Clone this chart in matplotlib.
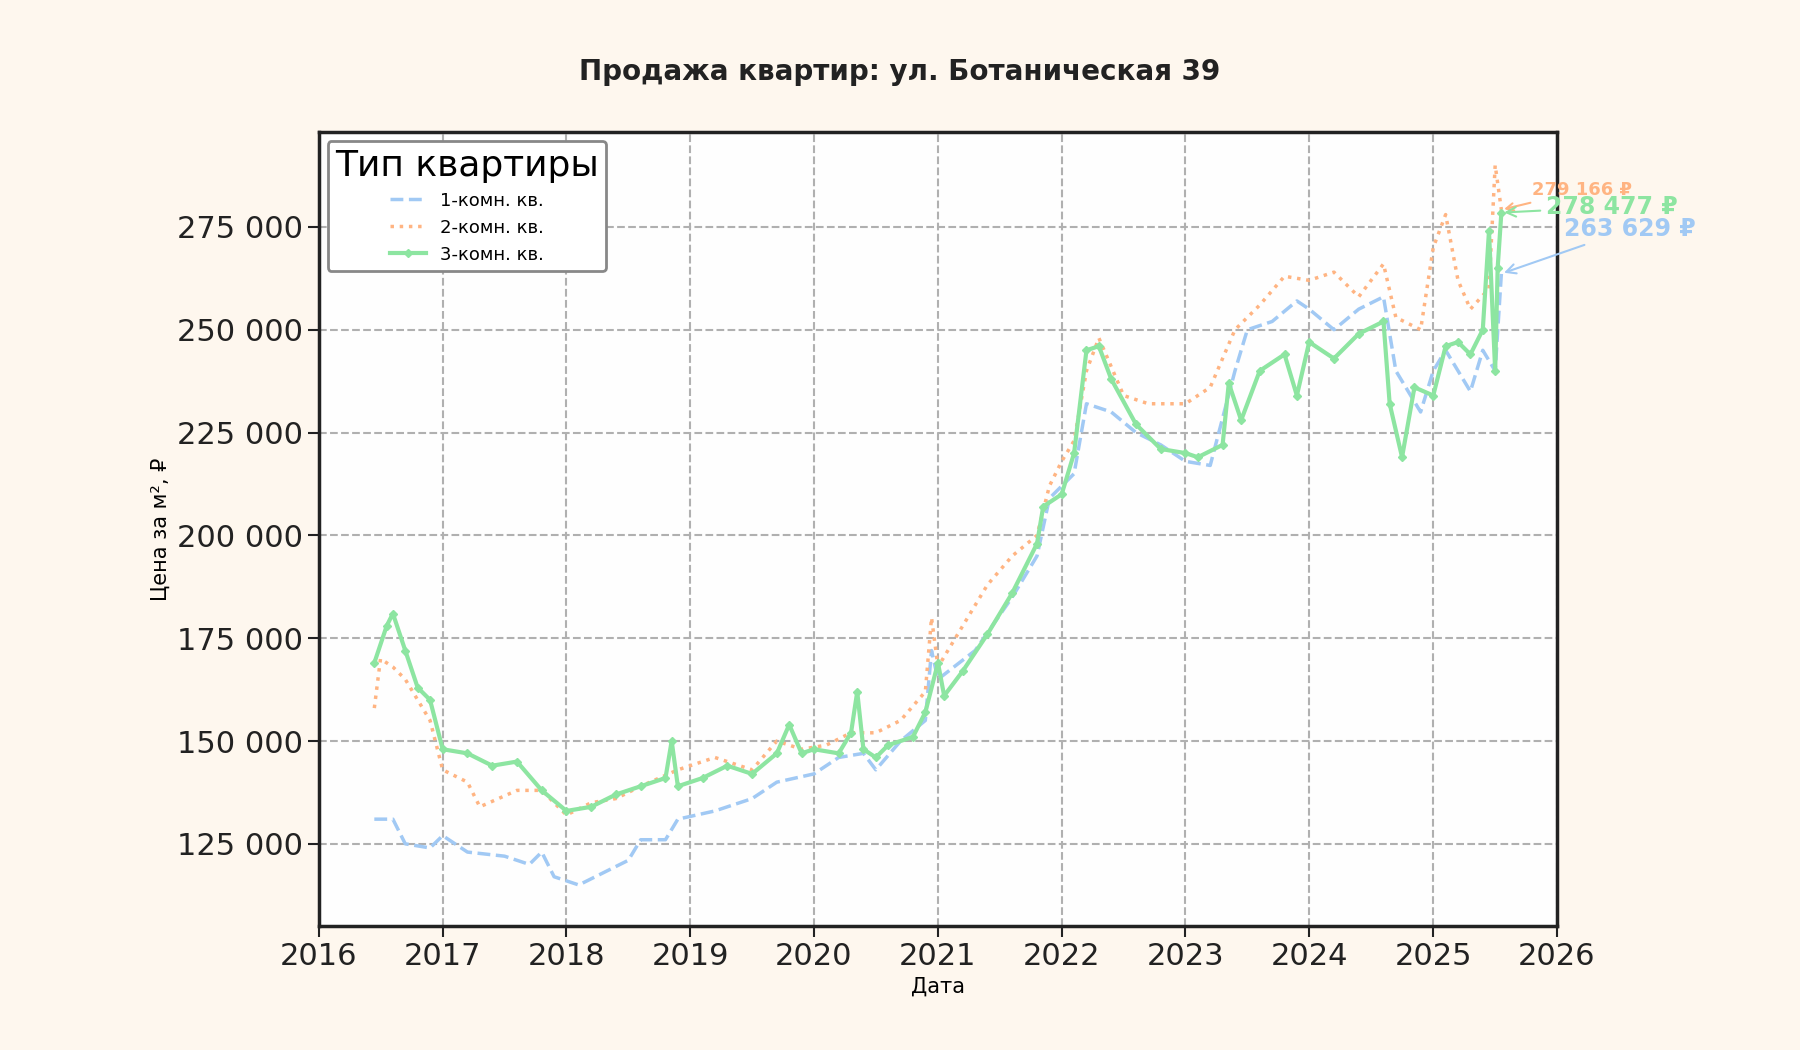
import pandas as pd
import matplotlib.pyplot as plt
import matplotlib.dates as mdates

# decimal years + price (thousand rub per m2)
t1 = [2016.45, 2016.6, 2016.7, 2016.9, 2017.0, 2017.2, 2017.5, 2017.7, 2017.8, 2017.9, 2018.1, 2018.3,
      2018.5, 2018.6, 2018.8, 2018.9, 2019.2, 2019.5, 2019.7, 2020.0, 2020.2, 2020.4, 2020.5, 2020.7,
      2020.9, 2020.95, 2021.0, 2021.3, 2021.6, 2021.8, 2021.9, 2022.1, 2022.2, 2022.4, 2022.6, 2022.8,
      2023.0, 2023.2, 2023.4, 2023.5, 2023.7, 2023.9, 2024.0, 2024.2, 2024.4, 2024.6, 2024.7, 2024.9,
      2025.0, 2025.1, 2025.2, 2025.3, 2025.4, 2025.5, 2025.55]
v1 = [131, 131, 125, 124, 127, 123, 122, 120, 123, 117, 115, 118, 121, 126, 126, 131, 133, 136, 140,
      142, 146, 147, 143, 150, 155, 172, 165, 172, 185, 195, 209, 215, 232, 230, 225, 222, 218, 217,
      240, 250, 252, 257, 255, 250, 255, 258, 240, 230, 240, 245, 240, 235, 245, 240, 263.629]

t2 = [2016.45, 2016.5, 2016.6, 2016.7, 2016.9, 2017.0, 2017.2, 2017.3, 2017.6, 2017.8, 2018.0, 2018.2,
      2018.4, 2018.6, 2018.9, 2019.2, 2019.5, 2019.7, 2019.9, 2020.1, 2020.3, 2020.5, 2020.7, 2020.9,
      2020.95, 2021.0, 2021.2, 2021.4, 2021.6, 2021.8, 2021.9, 2022.0, 2022.1, 2022.2, 2022.3, 2022.5,
      2022.7, 2022.9, 2023.0, 2023.2, 2023.4, 2023.6, 2023.8, 2024.0, 2024.2, 2024.4, 2024.6, 2024.7,
      2024.9, 2025.0, 2025.1, 2025.2, 2025.3, 2025.45, 2025.5, 2025.55]
v2 = [158, 170, 168, 165, 155, 143, 140, 134, 138, 138, 132, 135, 136, 139, 143, 146, 143, 150, 148,
      149, 152, 152, 155, 162, 180, 168, 178, 188, 195, 200, 212, 218, 223, 240, 248, 234, 232, 232,
      232, 236, 250, 256, 263, 262, 264, 258, 266, 253, 250, 270, 278, 262, 255, 260, 290, 279.166]

t3 = [2016.45, 2016.55, 2016.6, 2016.7, 2016.8, 2016.9, 2017.0, 2017.2, 2017.4, 2017.6, 2017.8, 2018.0,
      2018.2, 2018.4, 2018.6, 2018.8, 2018.85, 2018.9, 2019.1, 2019.3, 2019.5, 2019.7, 2019.8, 2019.9,
      2020.0, 2020.2, 2020.3, 2020.35, 2020.4, 2020.5, 2020.6, 2020.8, 2020.9, 2021.0, 2021.05, 2021.2,
      2021.4, 2021.6, 2021.8, 2021.85, 2022.0, 2022.1, 2022.2, 2022.3, 2022.4, 2022.6, 2022.8, 2023.0,
      2023.1, 2023.3, 2023.35, 2023.45, 2023.6, 2023.8, 2023.9, 2024.0, 2024.2, 2024.4, 2024.6, 2024.65,
      2024.75, 2024.85, 2025.0, 2025.1, 2025.2, 2025.3, 2025.4, 2025.45, 2025.5, 2025.52, 2025.55]
v3 = [169, 178, 181, 172, 163, 160, 148, 147, 144, 145, 138, 133, 134, 137, 139, 141, 150, 139, 141,
      144, 142, 147, 154, 147, 148, 147, 152, 162, 148, 146, 149, 151, 157, 169, 161, 167, 176, 186,
      198, 207, 210, 220, 245, 246, 238, 227, 221, 220, 219, 222, 237, 228, 240, 244, 234, 247, 243,
      249, 252, 232, 219, 236, 234, 246, 247, 244, 250, 274, 240, 265, 278.477]

labels = ['1-комн. кв.', '2-комн. кв.', '3-комн. кв.']
colors = ['#a1c9f4', '#ffb482', '#8de5a1']


def to_dates(years):
    return [pd.Timestamp('%d-01-01' % int(y)) + pd.Timedelta(days=(y - int(y)) * 365.25) for y in years]


fig = plt.figure(figsize=(18, 10.5), dpi=100, facecolor='#fef7ee')
ax = fig.add_axes([0.177, 0.118, 0.688, 0.756])
ax.set_facecolor('#fefefe')

d1, d2, d3 = to_dates(t1), to_dates(t2), to_dates(t3)
ax.plot(d1, [v * 1000 for v in v1], '--', color=colors[0], lw=2.5, label=labels[0])
ax.plot(d2, [v * 1000 for v in v2], ':', color=colors[1], lw=2.5, label=labels[1])
ax.plot(d3, [v * 1000 for v in v3], '-', color=colors[2], lw=3, marker='D', ms=4, label=labels[2])

ax.set_xlim(pd.Timestamp('2016-01-01'), pd.Timestamp('2026-01-01'))
ax.set_ylim(105000, 298000)
ax.xaxis.set_major_locator(mdates.YearLocator())
ax.xaxis.set_major_formatter(mdates.DateFormatter('%Y'))
ax.set_yticks([125000, 150000, 175000, 200000, 225000, 250000, 275000])
ax.yaxis.set_major_formatter(plt.FuncFormatter(lambda v, p: f'{int(v):,}'.replace(',', ' ')))
ax.tick_params(labelsize=22, length=8, width=1.5, colors='#222222')
ax.grid(True, ls='--', color='#b0b0b0', lw=1.5)
for s in ax.spines.values():
    s.set_linewidth(2.5)
    s.set_color('#222222')

ax.set_xlabel('Дата', fontsize=15)
ax.set_ylabel('Цена за м², ₽', fontsize=15)
fig.suptitle('Продажа квартир: ул. Ботаническая 39', fontsize=20, fontweight='bold', y=0.945, color='#222222')

# end-point labels (they overlap in the original too)
for d, v, c, off, fs in [(d2, v2, colors[1], (22, 14), 13), (d3, v3, colors[2], (32, 4), 17),
                         (d1, v1, colors[0], (45, 32), 17)]:
    last = v[-1] * 1000
    txt = f'{int(round(last)):,} ₽'.replace(',', ' ')
    ax.annotate(txt, xy=(d[-1], last), xytext=off, textcoords='offset points', va='center',
                color=c, fontsize=fs, fontweight='bold',
                arrowprops=dict(arrowstyle='->', color=c, lw=1.5))

leg = ax.legend(title='Тип квартиры', loc='upper left', fontsize=13, title_fontsize=26,
                frameon=True, edgecolor='#888888', framealpha=1)
leg.get_frame().set_linewidth(2)

fig.savefig('out.png', dpi=100, facecolor=fig.get_facecolor())
